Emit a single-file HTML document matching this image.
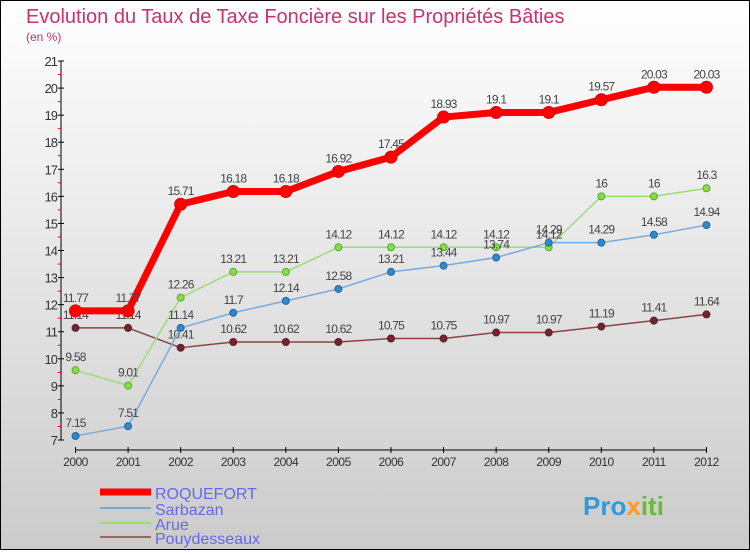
<!DOCTYPE html>
<html><head><meta charset="utf-8"><style>
body{margin:0;}
#c{width:750px;height:550px;position:relative;}
</style></head><body>
<div id="c">
<svg id="s" width="750" height="550" xmlns="http://www.w3.org/2000/svg" font-family="Liberation Sans, sans-serif">
<defs><linearGradient id="bg" x1="0" y1="0" x2="0" y2="1"><stop offset="0" stop-color="#ffffff"/><stop offset="1" stop-color="#cbcbcb"/></linearGradient></defs>
<rect x="0.5" y="0.5" width="749" height="549" fill="url(#bg)" stroke="#000"/>
<text x="26" y="23" font-size="20" fill="#c8336a">Evolution du Taux de Taxe Foncière sur les Propriétés Bâties</text>
<text x="26" y="41" font-size="12" fill="#c8336a">(en %)</text>
<g id="axes"></g><g id="series"></g>
<g>
<line x1="100" y1="492" x2="151" y2="492" stroke="#ff0000" stroke-width="7"/>
<text x="155" y="499" font-size="16" fill="#6666ee">ROQUEFORT</text>
<line x1="100" y1="508" x2="151" y2="508" stroke="#77aacc" stroke-width="2"/>
<text x="155" y="515" font-size="16" fill="#6666ee">Sarbazan</text>
<line x1="100" y1="523" x2="151" y2="523" stroke="#99dd77" stroke-width="2"/>
<text x="155" y="530" font-size="16" fill="#6666ee">Arue</text>
<line x1="100" y1="537" x2="151" y2="537" stroke="#996666" stroke-width="2"/>
<text x="155" y="544" font-size="16" fill="#6666ee">Pouydesseaux</text>
</g>
<text x="583" y="515" font-size="26" font-weight="bold" fill="#3399dd">Pro<tspan fill="#ff9922">x</tspan><tspan fill="#66bb33">iti</tspan></text>
</svg></div>
<script>
const years=["2000","2001","2002","2003","2004","2005","2006","2007","2008","2009","2010","2011","2012"];
const yTicks=[7,8,9,10,11,12,13,14,15,16,17,18,19,20,21];
const roquefort=[11.77,11.77,15.71,16.18,16.18,16.92,17.45,18.93,19.1,19.1,19.57,20.03,20.03];
const sarbazan=[7.15,7.51,11.14,11.7,12.14,12.58,13.21,13.44,13.74,14.29,14.29,14.58,14.94];
const arue=[9.58,9.01,12.26,13.21,13.21,14.12,14.12,14.12,14.12,14.12,16,16,16.3];
const pouy=[11.14,11.14,10.41,10.62,10.62,10.62,10.75,10.75,10.97,10.97,11.19,11.41,11.64];
const NS="http://www.w3.org/2000/svg";
const X=i=>75.5+i*52.58, Y=v=>440-(v-7)*27.07;
function mk(t,a,p){const e=document.createElementNS(NS,t);for(const k in a)e.setAttribute(k,a[k]);p.appendChild(e);return e;}
const ax=document.getElementById('axes');
let l=mk('line',{x1:61,y1:61,x2:61,y2:440,stroke:'#000'},ax);


yTicks.forEach(v=>{mk('line',{x1:58,y1:Y(v),x2:64,y2:Y(v),stroke:'#000'},ax);
 if(v<21)mk('line',{x1:58,y1:Y(v+0.5),x2:61,y2:Y(v+0.5),stroke:'#f00'},ax);
 const t=mk('text',{x:57,y:Y(v)+5,'font-size':13,'text-anchor':'end',fill:'#333','letter-spacing':'-1'},ax);t.textContent=v;
 
 });
l=mk('line',{x1:X(0),y1:450,x2:X(12),y2:450,stroke:'#000'},ax);


years.forEach((y,i)=>{mk('line',{x1:X(i),y1:447,x2:X(i),y2:453,stroke:'#000'},ax);
 const t=mk('text',{x:X(i),y:466,'font-size':12,'text-anchor':'middle',fill:'#333','letter-spacing':'-0.5'},ax);t.textContent=y;
 
 });
const sg=document.getElementById('series');
function draw(d,name,col,w,r,dot,stroke){
 const g=mk('g',{},sg);
 
 
 mk('polyline',{points:d.map((v,i)=>X(i)+','+Y(v)).join(' '),fill:'none',stroke:col,'stroke-width':w,'stroke-linejoin':'round'},g);
 d.forEach((v,i)=>{const c=mk('circle',{cx:X(i),cy:Y(v),r:r,fill:dot,stroke:stroke,'stroke-width':1},g);
  
  
  const t=mk('text',{x:X(i),y:Y(v)-9,'font-size':12,'text-anchor':'middle',fill:'#444','letter-spacing':'-0.8'},g);t.textContent=v;
  
  });
}
draw(pouy,'pouydesseaux','#884444',1.5,3.5,'#772233','#552222');
draw(arue,'arue','#99dd77',1.5,3.5,'#88dd44','#55aa33');
draw(sarbazan,'sarbazan','#77aadd',1.5,3.5,'#3388cc','#226699');
draw(roquefort,'roquefort','#ff0000',7,6,'#ff0000','#dd0000');
</script>
</body></html>
